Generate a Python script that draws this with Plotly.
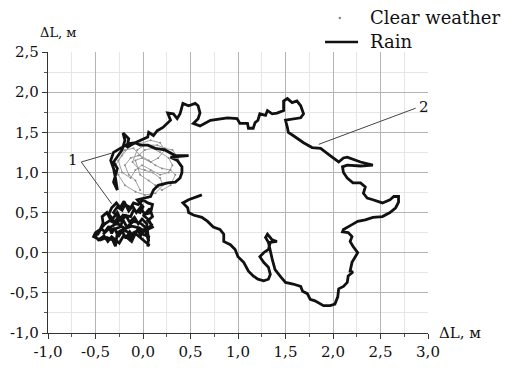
import plotly.graph_objects as go

# Rain trajectory (m)
rain_x = [-0.48, -0.44, -0.40, -0.36, -0.33, -0.30, -0.26, -0.22, -0.18, -0.14, -0.10, -0.06, -0.02, 0.02, 0.06,
          0.04, -0.01, -0.05, -0.09, -0.14, -0.18, -0.23, -0.27, -0.32, -0.36, -0.33, -0.28, -0.24, -0.20, -0.15,
          -0.11, -0.07, -0.03, 0.02, 0.07, 0.10, 0.05, 0.09, 0.03, -0.04, -0.12, -0.19, -0.25, -0.30, -0.35,
          -0.40, -0.46, -0.50, -0.47, -0.41, -0.37, -0.33, -0.25, -0.20, -0.12, -0.08, 0.06,
          0.05, 0.06, 0.00, -0.03, -0.10, -0.13, -0.15, -0.21, -0.27, -0.29, -0.32, -0.38, -0.45, -0.52, -0.50,
          -0.45, -0.42, -0.43, -0.38, -0.34, -0.29, -0.26, -0.31, -0.27, -0.22, -0.19, -0.13, -0.10, -0.05, 0.00,
          0.05, 0.10, 0.08, 0.00, 0.06, 0.10, 0.05, -0.03, -0.10, -0.17, -0.21, -0.24, -0.31, -0.38, -0.42,
          -0.34, -0.27, -0.21, -0.13, -0.10, -0.03, 0.00, -0.06,
          0.08, 0.11, 0.16, 0.26, 0.34, 0.39, 0.41, 0.41, 0.36, 0.29, 0.48, 0.34, 0.23, 0.13, 0.05, -0.03,
          -0.08, -0.15, -0.24, -0.31, -0.34, -0.31, -0.29, -0.27, -0.31, -0.27, -0.31, -0.26, -0.22, -0.19,
          -0.21, -0.15, -0.17, -0.10, -0.03, 0.05, 0.06, 0.11, 0.15, 0.21, 0.29, 0.26, 0.32, 0.36, 0.39,
          0.42, 0.48, 0.55, 0.58, 0.60, 0.58, 0.53, 0.60, 0.71, 0.89, 0.99, 1.02, 1.10, 1.11, 1.16, 1.18,
          1.21, 1.23, 1.29, 1.31, 1.36, 1.41, 1.48, 1.48, 1.52, 1.57, 1.62, 1.66, 1.69, 1.66, 1.60, 1.50,
          1.52, 1.53, 1.58, 1.69, 1.78, 1.87, 1.97, 2.06, 2.11, 2.15, 2.29, 2.42, 2.29, 2.15, 2.10, 2.11,
          2.15, 2.21, 2.29, 2.34, 2.32, 2.36, 2.42, 2.52, 2.60, 2.64, 2.69, 2.69, 2.66, 2.60, 2.52, 2.42,
          2.34, 2.26, 2.20, 2.11, 2.10, 2.16, 2.20, 2.18, 2.21, 2.26, 2.20, 2.18, 2.21, 2.16, 2.15, 2.11,
          2.06, 2.05, 2.02, 1.97, 1.90, 1.87, 1.81, 1.76, 1.73, 1.68, 1.66, 1.58, 1.50, 1.45, 1.41, 1.39,
          1.36, 1.34, 1.32, 1.29, 1.31, 1.36, 1.41, 1.34, 1.32, 1.27, 1.23, 1.27, 1.32, 1.34, 1.32, 1.27,
          1.21, 1.16, 1.11, 1.06, 1.00, 0.97, 0.92, 0.85, 0.85, 0.81, 0.74, 0.68, 0.62, 0.53, 0.48, 0.47,
          0.42, 0.48, 0.53, 0.58, 0.62]
rain_y = [0.22, 0.30, 0.26, 0.33, 0.24, 0.31, 0.20, 0.27, 0.18, 0.26, 0.20, 0.28, 0.22, 0.30, 0.14,
          0.36, 0.42, 0.36, 0.44, 0.38, 0.46, 0.40, 0.50, 0.42, 0.48, 0.56, 0.62, 0.56, 0.64, 0.52,
          0.58, 0.50, 0.56, 0.48, 0.55, 0.45, 0.40, 0.35, 0.26, 0.31, 0.33, 0.30, 0.35, 0.37, 0.40,
          0.36, 0.28, 0.20, 0.16, 0.21, 0.14, 0.20, 0.12, 0.22, 0.14, 0.24, 0.10,
          0.08, 0.20, 0.23, 0.29, 0.25, 0.14, 0.25, 0.29, 0.25, 0.08, 0.16, 0.19, 0.16, 0.20, 0.25,
          0.29, 0.37, 0.45, 0.50, 0.41, 0.39, 0.45, 0.50, 0.57, 0.53, 0.60, 0.56, 0.62, 0.60, 0.66,
          0.62, 0.60, 0.50, 0.47, 0.41, 0.32, 0.29, 0.37, 0.39, 0.32, 0.41, 0.32, 0.29, 0.29, 0.23,
          0.32, 0.37, 0.47, 0.45, 0.53, 0.50, 0.57, 0.66,
          0.70, 0.78, 0.84, 0.87, 0.88, 0.93, 1.00, 1.07, 1.15, 1.19, 1.21, 1.21, 1.28, 1.30, 1.34, 1.34,
          1.37, 1.36, 1.30, 1.25, 1.15, 1.05, 0.93, 0.78, 0.88, 1.05, 1.13, 1.21, 1.28, 1.40,
          1.49, 1.42, 1.31, 1.36, 1.40, 1.44, 1.50, 1.46, 1.52, 1.56, 1.65, 1.74, 1.73, 1.67, 1.73,
          1.86, 1.83, 1.86, 1.83, 1.74, 1.67, 1.61, 1.58, 1.65, 1.68, 1.67, 1.61, 1.61, 1.55, 1.55, 1.62,
          1.65, 1.73, 1.71, 1.77, 1.73, 1.74, 1.77, 1.89, 1.92, 1.87, 1.89, 1.83, 1.73, 1.68, 1.67, 1.65,
          1.56, 1.50, 1.46, 1.37, 1.31, 1.30, 1.21, 1.13, 1.18, 1.19, 1.13, 1.09, 1.08, 1.09, 1.07, 1.00,
          0.93, 0.87, 0.87, 0.82, 0.74, 0.68, 0.66, 0.62, 0.66, 0.70, 0.70, 0.63, 0.56, 0.50, 0.45, 0.44,
          0.41, 0.39, 0.35, 0.29, 0.26, 0.25, 0.20, 0.14, 0.08, 0.00, -0.12, -0.23, -0.24, -0.29, -0.37, -0.42,
          -0.45, -0.55, -0.64, -0.66, -0.66, -0.64, -0.60, -0.58, -0.51, -0.48, -0.42, -0.39, -0.37, -0.30, -0.24, -0.21,
          -0.08, 0.04, 0.13, 0.19, 0.23, 0.16, 0.14, 0.13, 0.04, 0.00, -0.05, -0.12, -0.18, -0.27, -0.33, -0.35,
          -0.33, -0.29, -0.23, -0.12, -0.05, 0.04, 0.10, 0.14, 0.23, 0.29, 0.32, 0.39, 0.44, 0.47, 0.50, 0.56,
          0.62, 0.66, 0.68, 0.70, 0.72]

# Clear weather trajectory (m)
clear_x = [-0.03, -0.08, -0.15, -0.19, -0.13, -0.05, 0.02, 0.10, 0.18, 0.27, 0.31, 0.27, 0.18, 0.08, -0.01,
           -0.08, -0.13, -0.22, -0.26, -0.19, -0.10, -0.03, 0.06, 0.13, 0.20, 0.29, 0.34, 0.29, 0.20, 0.13,
           0.06, -0.03, -0.08, -0.01, 0.08, 0.16, 0.23, 0.18, 0.08, -0.03, -0.13, -0.22, -0.29, -0.26, -0.19,
           -0.08, 0.02, 0.13, 0.21, 0.18, 0.10, 0.02, -0.05, -0.11, -0.06, 0.02, 0.15, 0.23, 0.31, 0.37, 0.39]
clear_y = [0.78, 0.90, 0.97, 1.09, 1.18, 1.21, 1.28, 1.30, 1.25, 1.18, 1.09, 1.00, 0.97, 1.03, 1.09,
           1.03, 0.93, 1.00, 1.15, 1.28, 1.30, 1.21, 1.15, 1.09, 1.05, 1.03, 0.97, 0.84, 0.78, 0.84,
           0.90, 0.97, 1.15, 1.18, 1.13, 1.18, 1.28, 1.37, 1.40, 1.36, 1.34, 1.21, 1.09, 0.97, 0.84,
           0.76, 0.72, 0.74, 0.84, 0.93, 1.00, 1.03, 1.05, 1.13, 1.28, 1.34, 1.34, 1.30, 1.28, 1.18, 1.09]

x_ticks = [-1.0, -0.5, 0.0, 0.5, 1.0, 1.5, 2.0, 2.5, 3.0]
x_labels = ["-1,0", "-0,5", "0,0", "0,5", "1,0", "1,5", "2,0", "2,5", "3,0"]
y_ticks = [-1.0, -0.5, 0.0, 0.5, 1.0, 1.5, 2.0, 2.5]
y_labels = ["-1,0", "-0,5", "0,0", "0,5", "1,0", "1,5", "2,0", "2,5"]

SERIF = "DejaVu Serif"
INK = "#111111"

fig = go.Figure()
fig.add_trace(go.Scatter(x=clear_x, y=clear_y, mode="lines+markers", name="Clear weather",
                         line=dict(color="#a0a0a0", width=1), marker=dict(color="#8a8a8a", size=2)))
fig.add_trace(go.Scatter(x=rain_x, y=rain_y, mode="lines", name="Rain",
                         line=dict(color=INK, width=2.8)))

axis_common = dict(
    showline=True, linecolor="#333333", linewidth=1.2,
    ticks="outside", ticklen=5, tickcolor="#333333", tickwidth=1.2,
    showgrid=True, gridcolor="#b4b4b4", gridwidth=1.3, zeroline=False,
    minor=dict(dtick=0.25, showgrid=True, gridcolor="#e6e6e6", gridwidth=1,
               ticks="outside", ticklen=3, tickcolor="#555555"),
    tickfont=dict(family=SERIF, size=15, color=INK),
)

fig.update_xaxes(range=[-1.0, 3.0], tickvals=x_ticks, ticktext=x_labels, tickmode="array", **axis_common)
fig.update_yaxes(range=[-1.0, 2.5], tickvals=y_ticks, ticktext=y_labels, tickmode="array", **axis_common)

# numbered callouts
fig.add_shape(type="line", x0=-0.65, y0=1.13, x1=-0.33, y1=1.24, line=dict(color="#444444", width=1))
fig.add_shape(type="line", x0=-0.65, y0=1.13, x1=-0.33, y1=0.61, line=dict(color="#444444", width=1))
fig.add_shape(type="line", x0=2.87, y0=1.80, x1=1.85, y1=1.35, line=dict(color="#444444", width=1))

fig.add_annotation(x=-0.66, y=1.16, text="1", showarrow=False, xanchor="right", yanchor="middle",
                   font=dict(family=SERIF, size=15, color=INK))
fig.add_annotation(x=2.88, y=1.81, text="2", showarrow=False, xanchor="left", yanchor="middle",
                   font=dict(family=SERIF, size=15, color=INK))

# axis titles
fig.add_annotation(xref="paper", yref="paper", x=-0.026, y=1.071, text="ΔL, м", showarrow=False,
                   xanchor="left", yanchor="middle", font=dict(family=SERIF, size=13, color=INK))
fig.add_annotation(xref="paper", yref="paper", x=1.024, y=0.0, text="ΔL, м", showarrow=False,
                   xanchor="left", yanchor="middle", font=dict(family=SERIF, size=15, color=INK))

# legend (drawn by hand to match the original layout)
fig.add_shape(type="circle", xref="paper", yref="paper", xsizemode="pixel", ysizemode="pixel",
              xanchor=0.768, yanchor=1.121, x0=-1.3, x1=1.3, y0=-1.3, y1=1.3,
              fillcolor="#8a8a8a", line=dict(width=0))
fig.add_annotation(xref="paper", yref="paper", x=0.842, y=1.121, text="Clear weather", showarrow=False,
                   xanchor="left", yanchor="middle", font=dict(family=SERIF, size=18, color=INK))
fig.add_shape(type="line", xref="paper", yref="paper", x0=0.729, x1=0.816, y0=1.036, y1=1.036,
              line=dict(color=INK, width=2.5))
fig.add_annotation(xref="paper", yref="paper", x=0.842, y=1.039, text="Rain", showarrow=False,
                   xanchor="left", yanchor="middle", font=dict(family=SERIF, size=18, color=INK))

fig.update_layout(
    width=505, height=363,
    margin=dict(l=40, r=85, t=44, b=38, autoexpand=False),
    paper_bgcolor="white", plot_bgcolor="white",
    showlegend=False,
)

fig.write_html("out.html")
